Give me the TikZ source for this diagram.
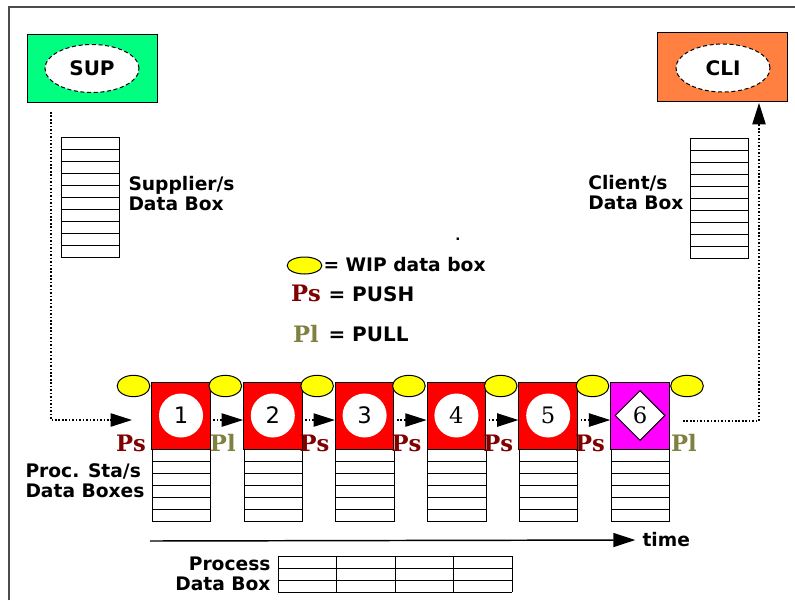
\documentclass[tikz,border=0pt]{standalone}
\usepackage{fontspec}
\setmainfont{DejaVu Sans}
\newfontfamily\serifnum{DejaVu Serif}
\usetikzlibrary{shapes.geometric}
\usetikzlibrary{arrows.meta}
\definecolor{csup}{RGB}{0,255,128}
\definecolor{ccli}{RGB}{255,128,64}
\definecolor{cred}{RGB}{255,0,0}
\definecolor{cmag}{RGB}{255,0,255}
\definecolor{cwip}{RGB}{255,255,0}
\definecolor{cps}{RGB}{128,0,0}
\definecolor{cpl}{RGB}{128,128,64}

\tikzset{
  partner/.style={draw=black, minimum width=97.5pt, minimum height=51.5pt, inner sep=0pt},
  partnername/.style={ellipse, draw=black, densely dashed, fill=white, minimum width=70.5pt,
    minimum height=36pt, inner sep=0pt, font=\bfseries\fontsize{15pt}{15pt}\selectfont},
  station/.style={draw=black, minimum width=43.875pt, minimum height=50.25pt, inner sep=0pt},
  wheel/.style={circle, fill=white, minimum size=33pt, inner sep=0pt,
    font=\fontsize{17pt}{17pt}\selectfont},
  wip/.style={ellipse, draw=black, fill=cwip, minimum width=24.5pt, minimum height=16pt, inner sep=0pt},
  ps/.style={text=cps, inner sep=0pt, font=\serifnum\bfseries\fontsize{17pt}{17pt}\selectfont},
  pl/.style={text=cpl, inner sep=0pt, font=\serifnum\bfseries\fontsize{17pt}{17pt}\selectfont},
  note/.style={inner sep=0pt, align=left, font=\bfseries\fontsize{14pt}{15pt}\selectfont},
  link/.style={line width=0.9pt, dash pattern=on 1.2pt off 1.4pt, -{Triangle[length=16pt,width=10pt]}},
}

% one data box: x, y (top left), columns, rows
\newcommand{\databox}[4]{%
  \foreach \r in {0,...,#4} \draw ({#1},{#2+12*\r}) -- ({(#1)+58.5*#3},{#2+12*\r});
  \foreach \c in {0,...,#3} \draw ({(#1)+58.5*\c},#2) -- ({(#1)+58.5*\c},{#2+12*#4});
}

\begin{document}
\begin{tikzpicture}[x=0.75pt, y=-0.75pt, line width=0.75pt]
    \useasboundingbox (0,0) rectangle (795,600);
    \draw[line width=1.5pt, black!70] (9,600) -- (9,7) -- (795,7);

    % supplier and client
    \node[partner, fill=csup] (sup) at (92,68.5) {};
    \node[partnername] (supname) at (sup) {SUP};
    \node[partner, fill=ccli] (cli) at (722.5,67) {};
    \node[partnername] (cliname) at (723,68) {CLI};
    \databox{61}{137}{1}{10}
    \databox{690}{138}{1}{10}
    \node[note, anchor=west] (suplab) at (128,194) {Supplier/s\\Data Box};
    \node[note, anchor=east] (clilab) at (684,193) {Client/s\\Data Box};

    % legend
    \node[inner sep=0pt, font=\bfseries] (stray) at (458,239) {.};
    \node[wip, minimum width=26pt, minimum height=12.75pt] (wipkey) at (304.5,265.5) {};
    \node[note, anchor=west] (wiptxt) at (323,265) {= WIP data box};
    \node[ps] (pskey) at (306,293) {Ps};
    \node[note, anchor=west, font=\bfseries\fontsize{15pt}{15pt}\selectfont] (pstxt) at (328,294) {= PUSH};
    \node[pl] (plkey) at (306,334) {Pl};
    \node[note, anchor=west, font=\bfseries\fontsize{15pt}{15pt}\selectfont] (pltxt) at (328,334) {= PULL};

    % stations
    \foreach \i/\c in {1/cred,2/cred,3/cred,4/cred,5/cred,6/cmag} {
        \node[station, fill=\c] (s\i) at ({181+91.8*(\i-1)},415.5) {};
        \node[wip] (wip\i) at ({133.5+91.8*(\i-1)},386) {};
        \databox{152.25+91.8*(\i-1)}{449.5}{1}{6}
    }
    \node[wip] (wip7) at (687,386) {};
    \foreach \i in {1,2,3}
        \node[wheel] (w\i) at (s\i) {\i};
    \foreach \i in {4,5}
        \node[wheel, font=\serifnum\fontsize{17pt}{17pt}\selectfont] (w\i) at (s\i) {\i};
    \node[diamond, draw=black, fill=white, minimum size=37.5pt, inner sep=0pt,
        font=\serifnum\fontsize{17pt}{17pt}\selectfont] (w6) at (s6) {6};

    % push / pull marks
    \foreach \i/\t/\s in {1/Ps/ps,2/Pl/pl,3/Ps/ps,4/Ps/ps,5/Ps/ps,6/Ps/ps}
        \node[\s] (mark\i) at ({131+91.8*(\i-1)},443) {\t};
    \node[pl] (mark7) at (684,443) {Pl};

    % flow
    \coordinate (supout) at (51,112);
    \coordinate (s1in) at (132,420);
    \coordinate (s6out) at (683,421);
    \coordinate (cliin) at (759,103);
    \draw[link] (supout) |- (s1in);
    \foreach \i/\j in {1/2,2/3,3/4,4/5,5/6}
        \draw[link, shorten <=2pt] ([yshift=-3.4pt]s\i.east) -- ([yshift=-3.4pt]s\j.west);
    \draw[link] (s6out) -| (cliin);

    % time axis and process data box
    \coordinate (t0) at (150,541);
    \node[note, anchor=west] (timelab) at (642,540) {time};
    \draw[line width=1.1pt, -{Triangle[length=16.5pt,width=10.5pt]}] (t0) -- ([xshift=-5pt]timelab.west);
    \databox{278}{556}{4}{3}
    \node[note, anchor=east, align=right] (prolab) at (271,574) {Process\\Data Box};
    \node[note, anchor=west] (proclab) at (25,481) {Proc. Sta/s\\Data Boxes};
\end{tikzpicture}
\end{document}
